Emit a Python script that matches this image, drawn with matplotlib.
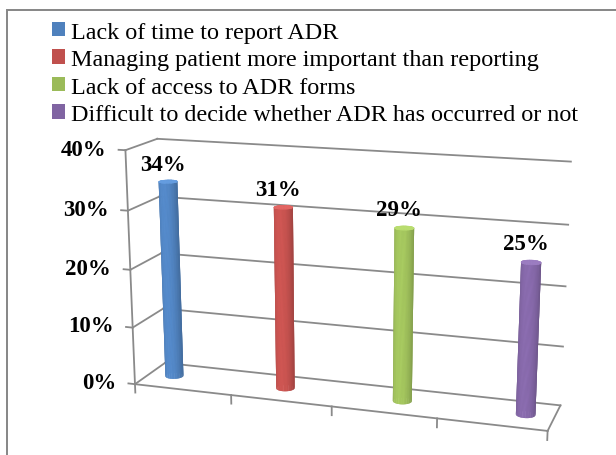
import numpy as np
import matplotlib
matplotlib.use("Agg")
import matplotlib.pyplot as plt
from matplotlib.patches import Patch, Rectangle
from matplotlib.colors import to_rgb
from mpl_toolkits.mplot3d import proj3d

# data
labels = ['Lack of time to report ADR',
          'Managing patient more important than reporting',
          'Lack of access to ADR forms',
          'Difficult to decide whether ADR has occurred or not']
values = [34, 31, 29, 25]
colors = ['#4f81bd', '#c0504d', '#9bbb59', '#8064a2']
yticks = [0, 10, 20, 30, 40]
ytick_labels = ['0%', '10%', '20%', '30%', '40%']

serif = ['Liberation Serif', 'DejaVu Serif']
grid_c = '#8a8a8a'

# 3d geometry
n = len(values)
depth = 0.68
slot = 0.16          # width of one series slot in a category
radius = 0.088
elev, azim, focal = 15, -72, 0.43

fig = plt.figure(figsize=(6.16, 4.56), dpi=100)

# outer frame of the chart
fig.patches.append(Rectangle((7 / 616, -0.1), 1.2, 1.1 - 11 / 456,
                             transform=fig.transFigure, fill=False,
                             edgecolor='#868686', linewidth=1.4))

S = 600
cx, cy = 335, 456 - 287
ax = fig.add_axes([(cx - S / 2) / 616, (cy - S / 2) / 456, S / 616, S / 456],
                  projection='3d', computed_zorder=False)
ax.patch.set_visible(False)
ax.set_proj_type('persp', focal_length=focal)
ax.view_init(elev=elev, azim=azim)
ax.set_box_aspect((n, depth, 2.28), zoom=0.816)
ax.set_xlim(0, n)
ax.set_ylim(0, depth)
ax.set_zlim(0, yticks[-1])
ax.set_axis_off()


def label_at(x, y, z, s, **kw):
    # project a 3d point and place the text as plain 2d text there
    xp, yp, _ = proj3d.proj_transform(x, y, z, ax.get_proj())
    ax.text2D(xp, yp, s, transform=ax.transData, fontweight='bold',
              family=serif, fontsize=16.5, **kw)


def tube(xc, yc, h, npts):
    th = np.linspace(0, 2 * np.pi, npts)
    X = xc + radius * np.cos(th)[None, :].repeat(2, 0)
    Y = yc + radius * np.sin(th)[None, :].repeat(2, 0)
    Z = np.array([[0.0], [h]]).repeat(npts, 1)
    return th, X, Y, Z


line_kw = dict(color=grid_c, linewidth=1.3, clip_on=False, zorder=1)

# gridlines on back and side walls, value ticks and labels
for z, lab in zip(yticks, ytick_labels):
    ax.plot([0, n], [depth, depth], [z, z], **line_kw)
    ax.plot([0, 0], [0, depth], [z, z], **line_kw)
    ax.plot([-0.07, 0], [0, 0], [z, z], **line_kw)
    label_at(-0.2, 0, z, lab, ha='right', va='center')

# vertical axis line, floor outline and category ticks
ax.plot([0, 0], [0, 0], [0, yticks[-1]], **line_kw)
ax.plot([0, n], [0, 0], [0, 0], **line_kw)
ax.plot([n, n], [0, depth], [0, 0], **line_kw)
for k in range(n + 1):
    ax.plot([k, k], [0, 0], [0, -1.5], **line_kw)

# cylinders
eye = np.deg2rad(azim)
light = np.deg2rad(azim - 25)
for i, (v, c) in enumerate(zip(values, colors)):
    xc = i + 0.5 + (i - (n - 1) / 2) * slot
    yc = depth / 2
    base = np.array(to_rgb(c))

    # plain underlay so the seams of the shaded facets do not show white
    _, X, Y, Z = tube(xc, yc, v, 23)
    ax.plot_surface(X, Y, Z, color=base * 0.92, shade=False, linewidth=0,
                    antialiased=True, zorder=3 + i)

    th, X, Y, Z = tube(xc, yc, v, 73)
    tm = (th[:-1] + th[1:]) / 2
    f = np.cos(tm - light)
    shade = np.where(f > 0, 0.84 + 0.28 * f, 0.84 + 0.12 * f)
    fc = np.clip(base[None, :] * shade[:, None], 0, 1)
    fcs = np.zeros((2, len(th), 4))
    fcs[0, :-1, :3] = fc
    fcs[1, :-1, :3] = fc
    # only the facets turned towards the viewer
    facing = np.cos(tm - eye) > -0.05
    fcs[0, :-1, 3] = facing
    fcs[1, :-1, 3] = facing
    ax.plot_surface(X, Y, Z, facecolors=fcs, shade=False, linewidth=0,
                    antialiased=True, rstride=1, cstride=1, zorder=3.2 + i)

    rr = np.array([0, radius])[:, None]
    Xt = xc + rr * np.cos(th)[None, :]
    Yt = yc + rr * np.sin(th)[None, :]
    Zt = np.full_like(Xt, v)
    top = np.clip(base * 1.12 + 0.05, 0, 1)
    ax.plot_surface(Xt, Yt, Zt, color=top, shade=False, linewidth=0.3,
                    edgecolor=top, zorder=3.5 + i)
    label_at(xc - 0.05, yc, v + 2.9, f'{v}%', ha='center', va='center',
             zorder=10)

handles = [Patch(facecolor=c, edgecolor='none') for c in colors]
fig.legend(handles, labels, loc='upper left', bbox_to_anchor=(52 / 616, 1 - 22.5 / 456),
           frameon=False, prop={'family': serif, 'size': 17.4},
           handlelength=0.55, handleheight=0.55, handletextpad=0.25,
           labelspacing=0.27, borderpad=0, borderaxespad=0)

fig.savefig('out.png', dpi=100)
